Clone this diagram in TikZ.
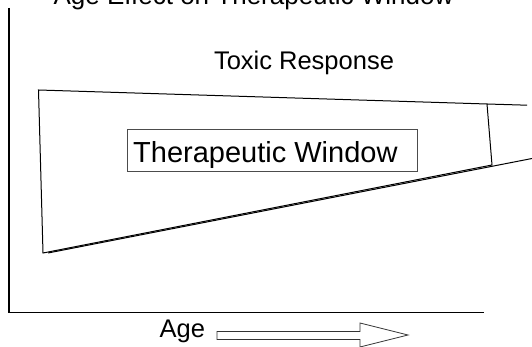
\documentclass[tikz,border=0pt]{standalone}
\usepackage{fontspec}
\setmainfont{Liberation Sans}
\begin{document}
\begin{tikzpicture}[x=1pt,y=-1pt,
  axisline/.style={line width=1.6pt,black},
  thinline/.style={line width=1pt,black},
  boxstyle/.style={draw=black!70,line width=1pt,minimum width=290pt,minimum height=42pt,inner sep=0pt},
  lbl/.style={anchor=base,inner sep=0pt}]
\useasboundingbox (0,0) rectangle (532,347);
% title (cut at top)
\node[lbl,font=\fontsize{26}{30}\selectfont] (title) at (253.5,4.5) {Age Effect on Therapeutic Window};
% axes
\coordinate (ytop) at (9,8);
\coordinate (origin) at (9,312.5);
\coordinate (xend) at (484,312.5);
\draw[axisline] (ytop) -- (origin) -- (xend);
% polygon
\coordinate (p1) at (38.5,90);
\coordinate (p2) at (487,104);
\coordinate (p3) at (492,165);
\coordinate (p4) at (43,253);
\coordinate (topend) at (527,105.2);
\coordinate (lowstart) at (48,253);
\coordinate (lowend) at (532,158.5);
\draw[thinline] (p1) -- (p2) -- (p3) -- (p4) -- cycle;
\draw[thinline] (p2) -- (topend);
\draw[thinline] (lowstart) -- (lowend);
% labels
\node[lbl,font=\fontsize{25.5}{29}\selectfont] (toxic) at (304,69.5) {Toxic Response};
\node[boxstyle] (twbox) at (272,151) {};
\node[anchor=base west,inner sep=0pt,font=\fontsize{29}{33}\selectfont] (twtext) at (133,162.5) {Therapeutic Window};
\node[anchor=base west,inner sep=0pt,font=\fontsize{25.5}{29}\selectfont] (age) at (159.5,337.5) {Age};
% hollow arrow
\coordinate (a1) at (217,331.5);
\coordinate (a2) at (360,331.5);
\coordinate (a3) at (360,323);
\coordinate (tip) at (408,335);
\coordinate (a5) at (360,347);
\coordinate (a6) at (360,339.5);
\coordinate (a7) at (217,339.5);
\draw[line width=0.8pt,black!80] (a1) -- (a2) -- (a3) -- (tip) -- (a5) -- (a6) -- (a7) -- cycle;
\end{tikzpicture}
\end{document}
